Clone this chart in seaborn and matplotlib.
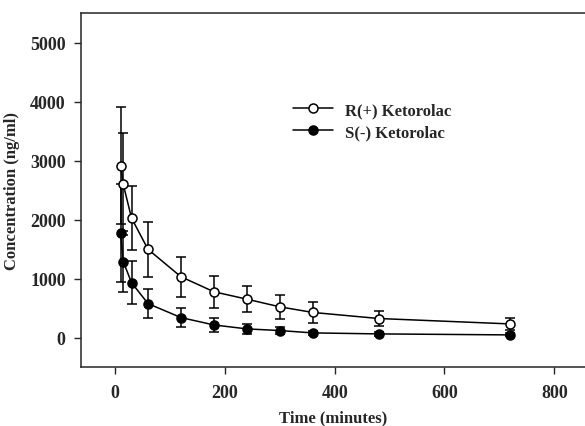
import numpy as np
import pandas as pd
import seaborn as sns
import matplotlib.pyplot as plt

# sampling times (minutes)
time = [10, 15, 30, 60, 120, 180, 240, 300, 360, 480, 720]

# mean concentrations (ng/ml) and SD
r_conc = [2910, 2595, 2025, 1495, 1030, 775, 650, 520, 425, 322, 230]
r_sd = [990, 865, 540, 470, 340, 270, 215, 200, 180, 135, 100]
s_conc = [1775, 1285, 930, 575, 338, 213, 146, 118, 78, 61, 44]
s_sd = [830, 520, 360, 250, 160, 120, 80, 60, 40, 30, 25]

labels = ['R(+) Ketorolac', 'S(-) Ketorolac']

df = pd.DataFrame({
    'time': time * 2,
    'conc': r_conc + s_conc,
    'sd': r_sd + s_sd,
    'drug': [labels[0]] * len(time) + [labels[1]] * len(time),
})

sns.set_style('ticks')
plt.rcParams['font.family'] = ['Liberation Serif', 'DejaVu Serif']
plt.rcParams['font.weight'] = 'bold'
plt.rcParams['font.size'] = 12

fig = plt.figure(figsize=(5.85, 4.27), dpi=100)
ax = fig.add_axes([81 / 585, 59 / 427, 504 / 585, 354 / 427])

faces = {labels[0]: 'white', labels[1]: 'black'}
for name in labels:
    sub = df[df['drug'] == name]
    ax.errorbar(sub['time'], sub['conc'], yerr=sub['sd'], fmt='none',
                ecolor='black', elinewidth=1.1, capsize=3.5, capthick=1.1, zorder=2)
    sns.lineplot(data=sub, x='time', y='conc', ax=ax, color='black', linewidth=1.1,
                 marker='o', markersize=6.5, markerfacecolor=faces[name],
                 markeredgecolor='black', markeredgewidth=1.1, label=name, zorder=3)

ax.set_xlim(-62, 856)
ax.set_ylim(-500, 5500)
ax.set_xticks([0, 200, 400, 600, 800])
ax.set_yticks([0, 1000, 2000, 3000, 4000, 5000])
ax.set_xlabel('Time (minutes)', fontweight='bold', fontsize=12, labelpad=6)
ax.set_ylabel('Concentration (ng/ml)', fontweight='bold', fontsize=12, labelpad=7)
ax.tick_params(direction='out', length=5, width=1, labelsize=13)
ax.tick_params(axis='x', pad=7)
ax.tick_params(axis='y', pad=6)
for lab in ax.get_xticklabels() + ax.get_yticklabels():
    lab.set_fontweight('bold')
ax.spines['right'].set_visible(False)
for s in ['left', 'top', 'bottom']:
    ax.spines[s].set_linewidth(1.1)

ax.legend(loc='center left', bbox_to_anchor=(285 / 585, 1 - 122 / 427),
          bbox_transform=fig.transFigure, frameon=False, handlelength=2.4,
          handletextpad=0.7, labelspacing=0.35, borderpad=0,
          prop={'family': 'Liberation Serif', 'weight': 'bold', 'size': 12})

fig.savefig('out.png', dpi=100)
